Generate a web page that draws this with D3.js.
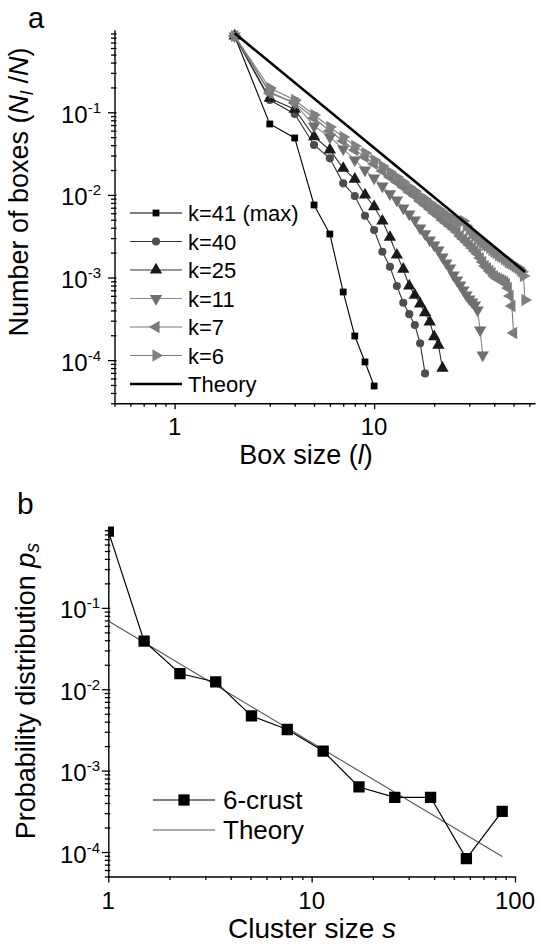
<!DOCTYPE html>
<html><head><meta charset="utf-8">
<script src="https://cdn.jsdelivr.net/npm/d3@7"></script>
<style>
html,body{margin:0;padding:0;background:#fff;}
svg{display:block;font-family:"Liberation Sans",Arial,Helvetica,sans-serif;}
</style></head><body>
<svg id="chart" width="541" height="944"></svg>
<script>
// ---------- DATA: panel a (box counting) ----------
const lK41 = [2,3,4,5,6,7,8,9,10];
const nK41 = [0.839,0.0722,0.0489,0.00755,0.00336,6.68e-4,1.96e-4,9.5e-5,4.86e-5];

const lK40 = [2,3,4,5,6,7,8,9,10,11,12,13,14,15,16,17,18];
const nK40 = [0.84,0.141,0.0953,0.0402,0.0277,0.0138,0.0097,0.0056,0.00376,0.00205,0.00135,7.9e-4,4.95e-4,3.6e-4,2.66e-4,1.6e-4,6.9e-5];

const lK25 = [2,3,4,5,6,7,8,9,10,11,12,13,14,15,16,17,18,19,20,21,22];
const nK25 = [0.84,0.148,0.109,0.0507,0.035,0.021,0.0155,0.00998,0.0072,0.00483,0.00307,0.00187,0.00126,7.9e-4,6.1e-4,4.8e-4,3.75e-4,2.9e-4,1.92e-4,1.52e-4,8.0e-5];

const lK11 = [2,3,4,5,6,7,8,9,10,11,12,13,14,15,16,17,18,19,20,21,22,23,24,25,26,27,28,29,30,31,32,33,34,35];
const nK11 = [0.84,0.177,0.129,0.0682,0.0502,0.036,0.0265,0.02,0.016,0.0128,0.0103,0.00867,0.00694,0.00587,0.00497,0.00397,0.00337,0.00284,0.00247,0.00215,0.00177,0.0015,0.0013,0.00107,9.3e-4,8.1e-4,7.05e-4,6.14e-4,5.5e-4,5.05e-4,4.65e-4,4.04e-4,2.31e-4,1.15e-4];

const lK7 = [2,3,4,5,6,7,8,9,10,11,12,13,14,15,16,17,18,19,20,21,22,23,24,25,26,27,28,29,30,31,32,33,34,35,36,37,38,39,40,41,42,43,44,45,46,47,48,49,50];
const nK7 = [0.84,0.171,0.130,0.0853,0.0594,0.0449,0.035,0.0288,0.0237,0.0195,0.01647,0.01433,0.01246,0.01084,0.0097,0.00844,0.00755,0.00675,0.00604,0.00556,0.00497,0.00457,0.0042,0.00387,0.00355,0.00318,0.00292,0.00269,0.00247,0.00228,0.00209,0.00193,0.00172,0.00154,0.00138,0.0013,0.0012,0.00113,0.00104,9.86e-4,9.59e-4,9.33e-4,9.07e-4,8.82e-4,8.34e-4,7.46e-4,5.97e-4,4.52e-4,2.13e-4];

const lK6 = [2,3,4,5,6,7,8,9,10,11,12,13,14,15,16,17,18,19,20,21,22,23,24,25,26,27,28,29,30,31,32,33,34,35,36,37,38,39,40,41,42,43,44,45,46,47,48,49,50,51,52,53,54,55,56,57];
const nK6 = [0.84,0.197,0.141,0.0927,0.0664,0.0502,0.0391,0.0322,0.02645,0.0224,0.01893,0.01647,0.01433,0.01246,0.01115,0.0097,0.00892,0.00798,0.00734,0.00675,0.00621,0.00571,0.00525,0.00511,0.00483,0.0047,0.00483,0.0042,0.00376,0.00336,0.00318,0.00292,0.00277,0.00262,0.00247,0.00241,0.00228,0.00215,0.00204,0.00198,0.00187,0.00182,0.00177,0.00167,0.00163,0.00154,0.0015,0.00146,0.00142,0.00138,0.00134,0.0013,0.00123,0.00117,0.00104,5.34e-4];

const theoryL = [2, 57];
const theoryN = [0.905, 0.00117];

const legendA = ["k=41 (max)","k=40","k=25","k=11","k=7","k=6","Theory"];

// ---------- DATA: panel b (cluster size distribution) ----------
const clusterS = [1,1.5,2.25,3.375,5.06,7.59,11.39,17.09,25.63,38.44,57.67,86.5];
const crust6P  = [0.877,0.039,0.0156,0.0123,0.0047,0.0032,0.00174,6.3e-4,4.7e-4,4.7e-4,8.3e-5,3.16e-4];
const theoryS = [1, 86.5];
const theoryP = [0.069, 8.8e-5];
const legendB = ["6-crust","Theory"];

// ---------- TICKS ----------
const xMajorA = [1,10];
const xMinorA = [0.5,0.6,0.7,0.8,0.9,2,3,4,5,6,7,8,9,20,30,40,50,60];
const yMajorA = [1e-1,1e-2,1e-3,1e-4];
const yExpA = ["-1","-2","-3","-4"];
const xMajorB = [1,10,100];
const xMinorB = [2,3,4,5,6,7,8,9,20,30,40,50,60,70,80,90];
const yMajorB = [1e-1,1e-2,1e-3,1e-4];
const yExpB = ["-1","-2","-3","-4"];

function minorsBetween(lo, hi){
  const out=[];
  for(let e=-6;e<=1;e++){ for(let m=2;m<=9;m++){ const v=m*Math.pow(10,e); if(v>=lo*0.999 && v<=hi*1.001) out.push(v);} }
  return out;
}

const svg = d3.select("#chart");

// ---------- SCALES ----------
const xA = d3.scaleLog().domain([0.5,64]).range([114.5,535]);
const yA = d3.scaleLog().domain([3e-5,1]).range([403.3,29.7]);
const xB = d3.scaleLog().domain([1,100]).range([108.3,515]);
const yB = d3.scaleLog().domain([5e-5,1]).range([876.5,526.5]);

function axes(x, y, xMaj, xMin, yMaj, yExp, yMin, opt){
  const g = svg.append("g");
  const y0 = y.range()[0], x0 = x.range()[0];
  const gxm = g.append("g").attr("transform",`translate(0,${y0})`)
    .call(d3.axisBottom(x).tickValues(xMin).tickSize(3.5).tickSizeOuter(0).tickFormat(""));
  gxm.select(".domain").remove();
  g.append("g").attr("transform",`translate(0,${y0})`)
    .call(d3.axisBottom(x).tickValues(xMaj).tickSize(6).tickSizeOuter(0).tickFormat(""));
  const gym = g.append("g").attr("transform",`translate(${x0},0)`)
    .call(d3.axisLeft(y).tickValues(yMin).tickSize(3.5).tickSizeOuter(0).tickFormat(""));
  gym.select(".domain").remove();
  gym.selectAll(".tick line").attr("x1",2);
  const gy = g.append("g").attr("transform",`translate(${x0},0)`)
    .call(d3.axisLeft(y).tickValues(yMaj).tickSize(6.5).tickSizeOuter(0).tickFormat(""));
  gy.selectAll(".tick line").attr("x1",2);
  g.selectAll(".domain").attr("stroke","#000").attr("stroke-width",1.4);
  g.selectAll(".tick line").attr("stroke","#000").attr("stroke-width",1.3);
  g.selectAll("text.xl").data(xMaj).enter().append("text")
    .attr("x",d=>x(d)).attr("y",opt.xLabelY).attr("text-anchor","middle")
    .attr("font-size",opt.tickFs).attr("fill","#000").text(d=>d3.format("d")(d));
  yMaj.forEach((v,i)=>{
    const t = g.append("text").attr("x",opt.yLabelEnd).attr("y",y(v)+opt.yLabelDy)
      .attr("text-anchor","end").attr("fill","#000").attr("font-size",opt.tickFs);
    t.append("tspan").text("10");
    t.append("tspan").attr("font-size",opt.supFs).attr("dy",-10).text(yExp[i]);
  });
  return g;
}

axes(xA,yA,xMajorA,xMinorA,yMajorA,yExpA,minorsBetween(3e-5,1).filter(v=>![1,0.1,0.01,0.001,0.0001].includes(v)),
  {xLabelY:435, tickFs:24, supFs:15, yLabelEnd:101, yLabelDy:10.5});
axes(xB,yB,xMajorB,xMinorB,yMajorB,yExpB,minorsBetween(5e-5,1),
  {xLabelY:909, tickFs:24, supFs:15, yLabelEnd:100, yLabelDy:10.5});

// ---------- PANEL A SERIES ----------
const symT = d3.symbolTriangle;
const styleA = [
  {l:lK41, v:nK41, sym:d3.symbolSquare, size:46, rot:0, fill:"#000000", line:"#000000"},
  {l:lK40, v:nK40, sym:d3.symbolCircle, size:52, rot:0, fill:"#4d4d4d", line:"#333333"},
  {l:lK25, v:nK25, sym:symT, size:66, rot:0, fill:"#1a1a1a", line:"#333333"},
  {l:lK11, v:nK11, sym:symT, size:66, rot:180, fill:"#6f6f6f", line:"#8c8c8c"},
  {l:lK7,  v:nK7,  sym:symT, size:66, rot:-90, fill:"#7a7a7a", line:"#777777"},
  {l:lK6,  v:nK6,  sym:symT, size:66, rot:90, fill:"#808080", line:"#808080"}
];
const gA = svg.append("g");
const lineA = d3.line().x(d=>xA(d[0])).y(d=>yA(d[1]));
styleA.forEach(s=>{
  const pts = s.l.map((l,i)=>[l,s.v[i]]);
  gA.append("path").datum(pts).attr("d",lineA).attr("fill","none").attr("stroke",s.line).attr("stroke-width",1.1);
  gA.selectAll(null).data(pts).enter().append("path")
    .attr("d",d3.symbol().type(s.sym).size(s.size))
    .attr("transform",d=>`translate(${xA(d[0])},${yA(d[1])}) rotate(${s.rot})`)
    .attr("fill",s.fill);
});
gA.append("path").datum(theoryL.map((l,i)=>[l,theoryN[i]])).attr("d",lineA)
  .attr("fill","none").attr("stroke","#000").attr("stroke-width",2.6);

// legend A
const legA = svg.append("g");
const legAY = [213,241.5,270,298.5,327,355.5,384];
legendA.forEach((name,i)=>{
  const yy = legAY[i];
  if(i<6){
    const s = styleA[i];
    legA.append("line").attr("x1",130).attr("x2",182).attr("y1",yy).attr("y2",yy).attr("stroke",s.line).attr("stroke-width",1.1);
    legA.append("path").attr("d",d3.symbol().type(s.sym).size(s.size)).attr("transform",`translate(156,${yy}) rotate(${s.rot})`).attr("fill",s.fill);
  } else {
    legA.append("line").attr("x1",130).attr("x2",182).attr("y1",yy).attr("y2",yy).attr("stroke","#000").attr("stroke-width",2.6);
  }
  legA.append("text").attr("x",188).attr("y",yy+8).attr("font-size",22).attr("fill","#000").text(name);
});

// ---------- PANEL B SERIES ----------
svg.append("clipPath").attr("id","clipB").append("rect").attr("x",xB.range()[0]).attr("y",yB.range()[1]).attr("width",xB.range()[1]-xB.range()[0]).attr("height",yB.range()[0]-yB.range()[1]);
const gB = svg.append("g");
const lineB = d3.line().x(d=>xB(d[0])).y(d=>yB(d[1]));
gB.append("path").datum(theoryS.map((s,i)=>[s,theoryP[i]])).attr("d",lineB)
  .attr("fill","none").attr("stroke","#555").attr("stroke-width",1.1);
const ptsB = clusterS.map((s,i)=>[s,crust6P[i]]);
gB.append("path").datum(ptsB).attr("d",lineB).attr("fill","none").attr("stroke","#000").attr("stroke-width",1.2);
gB.append("g").attr("clip-path","url(#clipB)").selectAll("path").data(ptsB).enter().append("path")
  .attr("d",d3.symbol().type(d3.symbolSquare).size(128))
  .attr("transform",d=>`translate(${xB(d[0])},${yB(d[1])})`).attr("fill","#000");

// legend B
const legB = svg.append("g");
legB.append("line").attr("x1",153).attr("x2",215).attr("y1",800).attr("y2",800).attr("stroke","#000").attr("stroke-width",1.2);
legB.append("path").attr("d",d3.symbol().type(d3.symbolSquare).size(128)).attr("transform","translate(184,800)").attr("fill","#000");
legB.append("line").attr("x1",153).attr("x2",215).attr("y1",830).attr("y2",830).attr("stroke","#555").attr("stroke-width",1.1);
legendB.forEach((name,i)=>{
  legB.append("text").attr("x",223).attr("y",800+i*30+9).attr("font-size",26).attr("fill","#000").text(name);
});

// ---------- TITLES ----------
svg.append("text").attr("x",28).attr("y",28).attr("font-size",29).text("a");
svg.append("text").attr("x",17).attr("y",514).attr("font-size",30).text("b");

const tA = svg.append("text").attr("x",306).attr("y",464).attr("text-anchor","middle").attr("font-size",27);
tA.append("tspan").text("Box size (");
tA.append("tspan").attr("font-style","italic").text("l");
tA.append("tspan").text(")");

const tB = svg.append("text").attr("x",312).attr("y",938).attr("text-anchor","middle").attr("font-size",28);
tB.append("tspan").text("Cluster size ");
tB.append("tspan").attr("font-style","italic").text("s");

const yTA = svg.append("text").attr("transform","translate(28,192) rotate(-90)").attr("text-anchor","middle").attr("font-size",27);
yTA.append("tspan").text("Number of boxes (");
yTA.append("tspan").attr("font-style","italic").text("N");
yTA.append("tspan").attr("font-style","italic").attr("font-size",18).attr("dy",5).text("l");
yTA.append("tspan").attr("dy",-5).text(" /");
yTA.append("tspan").attr("font-style","italic").text("N");
yTA.append("tspan").text(")");

const yTB = svg.append("text").attr("transform","translate(35,691) rotate(-90)").attr("text-anchor","middle").attr("font-size",27);
yTB.append("tspan").text("Probability distribution ");
yTB.append("tspan").attr("font-style","italic").text("p");
yTB.append("tspan").attr("font-style","italic").attr("font-size",20).attr("dy",4).text("s");
</script>
</body></html>
